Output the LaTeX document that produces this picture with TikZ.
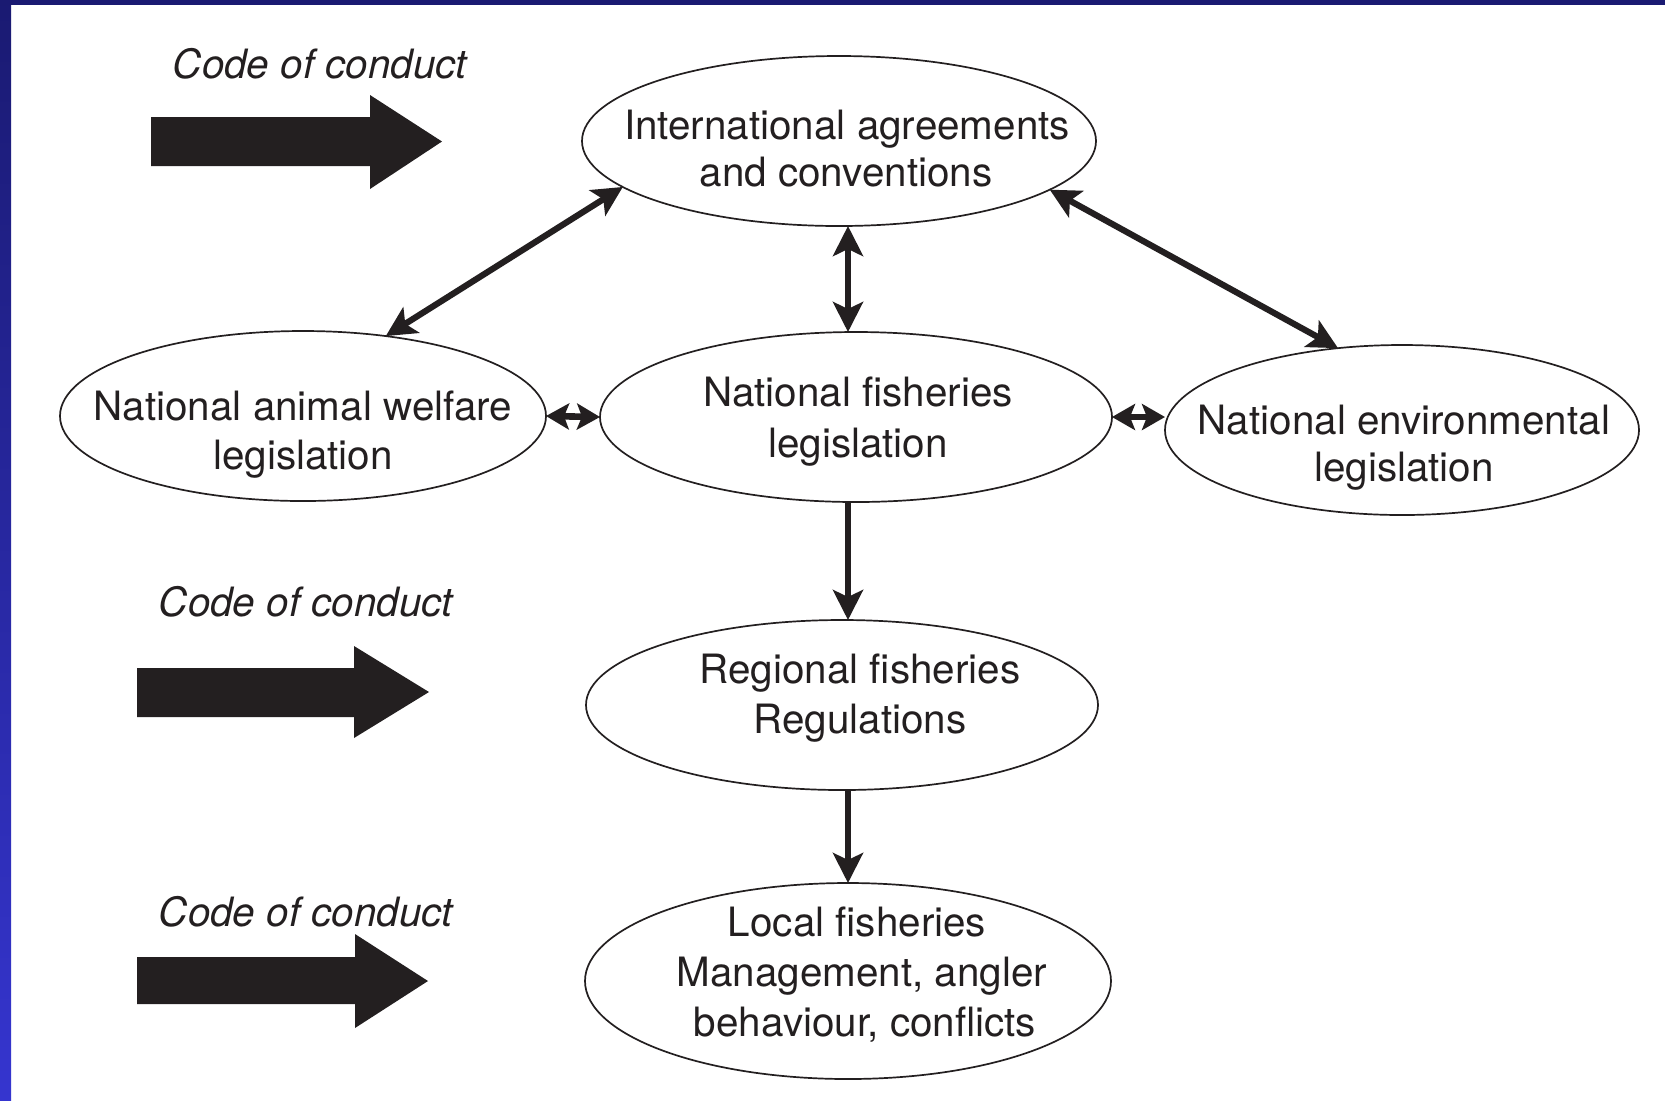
\documentclass[tikz,border=0pt]{standalone}
\usepackage{fontspec}
\setmainfont{TeX Gyre Heros}
\usetikzlibrary{arrows.meta,shapes.geometric}
\definecolor{ink}{HTML}{231F20}
\definecolor{navy}{HTML}{1A1A72}
\definecolor{frameblue}{HTML}{3535CF}
\tikzset{
  field/.style={ellipse, draw=ink, line width=0.85pt, inner sep=0pt, outer sep=0pt},
  caption/.style={anchor=base, text=ink, inner sep=0pt,
    font=\fontsize{20.2}{23.4}\selectfont},
  conduct/.style={caption, font=\fontsize{20.2}{23.4}\selectfont\itshape},
  link/.style={draw=ink, line width=3.1pt, {Stealth[length=15pt, width=15pt, inset=3.5pt]}-{Stealth[length=15pt, width=15pt, inset=3.5pt]}},
  shortlink/.style={draw=ink, line width=3.3pt, {Stealth[length=11.5pt, width=13pt, inset=2.5pt]}-{Stealth[length=11.5pt, width=13pt, inset=2.5pt]}},
  flow/.style={draw=ink, line width=3.1pt, -{Stealth[length=15pt, width=15pt, inset=3.5pt]}},
  blockarrow/.style={fill=ink}
}
\begin{document}
\begin{tikzpicture}[x=0.5pt, y=-0.5pt]
  \useasboundingbox (0,0) rectangle (1665,1100);
  \fill[white] (0,0) rectangle (1665,1100);
  % slide frame: shaded left strip and dark top strip
  \shade[top color=navy, bottom color=frameblue] (0,0) rectangle (11,1100);
  \fill[navy] (0,0) rectangle (1665,5);

  % ellipses
  \node[field, minimum width=257pt, minimum height=85pt] (intl) at (839,141) {};
  \node[field, minimum width=243pt, minimum height=85pt] (welfare) at (303,416) {};
  \node[field, minimum width=256pt, minimum height=85pt] (fish) at (856,417) {};
  \node[field, minimum width=237pt, minimum height=85pt] (env) at (1402,430) {};
  \node[field, minimum width=256pt, minimum height=85pt] (region) at (842,705) {};
  \node[field, minimum width=263pt, minimum height=98pt] (local) at (848,981) {};

  % ellipse captions
  \node[caption] (intl-a) at (847,139) {International agreements};
  \node[caption] (intl-b) at (846,186) {and conventions};
  \node[caption] (welfare-a) at (303,420) {National animal welfare};
  \node[caption] (welfare-b) at (303,469) {legislation};
  \node[caption] (fish-a) at (858,406) {National fisheries};
  \node[caption] (fish-b) at (858,457) {legislation};
  \node[caption] (env-a) at (1404,434) {National environmental};
  \node[caption] (env-b) at (1404,481) {legislation};
  \node[caption] (region-a) at (860,683) {Regional fisheries};
  \node[caption] (region-b) at (860,733) {Regulations};
  \node[caption] (local-a) at (857,936) {Local fisheries};
  \node[caption] (local-b) at (862,986) {Management, angler};
  \node[caption] (local-c) at (865,1036) {behaviour, conflicts};

  % codes of conduct
  \node[conduct] (code-a) at (320,78) {Code of conduct};
  \node[conduct] (code-b) at (306,616) {Code of conduct};
  \node[conduct] (code-c) at (306,926) {Code of conduct};

  % block arrows
  \fill[blockarrow] (151,117) -- (370,117) -- (370,95) -- (442,141.5)
    -- (370,189) -- (370,166) -- (151,166) -- cycle;
  \fill[blockarrow] (137,668) -- (354,668) -- (354,646) -- (429,692)
    -- (354,738) -- (354,717) -- (137,717) -- cycle;
  \fill[blockarrow] (137,957) -- (355,957) -- (355,934) -- (428,981)
    -- (355,1028) -- (355,1004) -- (137,1004) -- cycle;

  % connectors
  \coordinate (axis) at (848,0);
  \draw[link] (intl.192.6) -- (welfare.44.7);
  \draw[link] (intl.347.9) -- (env.128.2);
  \draw[link] (intl.south -| axis) -- (fish.north -| axis);
  \draw[shortlink] (welfare.east) -- (fish.west);
  \draw[shortlink] (fish.east) -- (env.west |- fish.east);
  \draw[flow] (fish.south -| axis) -- (region.north -| axis);
  \draw[flow] (region.south -| axis) -- (local.north -| axis);
\end{tikzpicture}
\end{document}
